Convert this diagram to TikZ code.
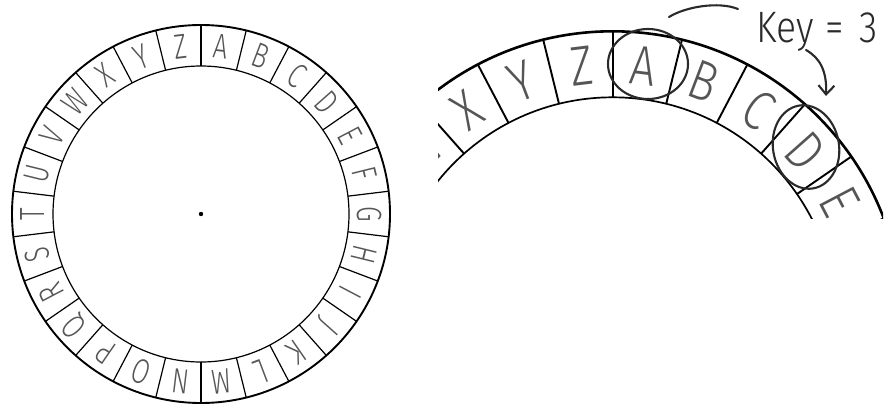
\documentclass[tikz,border=0pt]{standalone}
\usepackage{fontspec}
\usetikzlibrary{arrows.meta}
\newfontfamily\wheelfont{Fira Sans Light}
\definecolor{lettergray}{HTML}{555555}
\definecolor{ink}{HTML}{2A2A2A}
\tikzset{
  outerL/.style={line width=1.9pt, black},
  innerL/.style={line width=1.2pt, black},
  divL/.style={line width=1.2pt, black},
  letterL/.style={inner sep=0pt, text=lettergray, font=\wheelfont\fontsize{35}{35}\selectfont},
  outerR/.style={line width=2.6pt, black},
  innerR/.style={line width=1.7pt, black},
  divR/.style={line width=1.9pt, black},
  letterR/.style={inner sep=0pt, text=lettergray, font=\wheelfont\fontsize{56}{56}\selectfont},
  handtext/.style={inner sep=0pt, text=ink, font=\wheelfont\fontsize{44}{44}\selectfont},
  hand/.style={ink, line width=2.1pt, line cap=round},
}
\begin{document}
\begin{tikzpicture}[x=1pt,y=1pt]
\useasboundingbox (0,0) rectangle (893,416);
\fill[white] (0,0) rectangle (893,416);
% ---------- left wheel ----------
\coordinate (cL) at (201,202);
\begin{scope}[shift={(cL)}]
  \draw[outerL] (0,0) circle[radius=189];
  \draw[innerL] (0,0) circle[radius=148];
  \foreach \k in {0,...,25}{
    \draw[divL] ({90-\k*360/26}:148) -- ({90-\k*360/26}:189);
  }
  \foreach \L [count=\i from 0] in {A,B,C,D,E,F,G,H,I,J,K,L,M,N,O,P,Q,R,S,T,U,V,W,X,Y,Z}{
    \pgfmathsetmacro\ang{90-(\i+0.5)*360/26}
    \node[letterL, rotate=\ang-90, xscale=0.72] (L-\L) at (\ang:168.5) {\L};
  }
  \fill (0,0) circle[radius=2.2];
\end{scope}
% ---------- right zoomed arc ----------
\coordinate (cR) at (612.6,94.7);
\begin{scope}
  \clip (438,198) rectangle (883,416);
  \begin{scope}[shift={(cR)}]
    \draw[outerR] (0,0) circle[radius=290];
    \draw[innerR] (0,0) circle[radius=224];
    \foreach \k in {0,...,25}{
      \draw[divR] ({90-\k*360/26}:224) -- ({90-\k*360/26}:290);
    }
    \foreach \L/\i in {A/0,B/1,C/2,D/3,E/4,W/22,X/23,Y/24,Z/25}{
      \pgfmathsetmacro\ang{90-(\i+0.5)*360/26}
      \node[letterR, rotate=\ang-90, xscale=0.8] (R-\L) at (\ang:257) {\L};
    }
  \end{scope}
\end{scope}
% ---------- annotations ----------
\node[handtext, anchor=base west, xscale=0.85] (key) at (756,373) {Key\hspace{14pt}=\hspace{18pt}3};
\draw[hand] (648,352) ellipse[x radius=40, y radius=35];
\draw[hand, rotate around={10:(806,269)}] (806,269) ellipse[x radius=33, y radius=42];
\coordinate (stroke1) at (669,399);
\coordinate (stroke2) at (738,407);
\draw[hand] (stroke1) .. controls (685,409) and (718,415) .. (stroke2);
\coordinate (arrS) at (806,366);
\coordinate (arrE) at (826,320);
\draw[hand, -{Straight Barb[length=9pt,width=16pt]}] (arrS) .. controls (820,358) and (827,345) .. (arrE);
\end{tikzpicture}
\end{document}
